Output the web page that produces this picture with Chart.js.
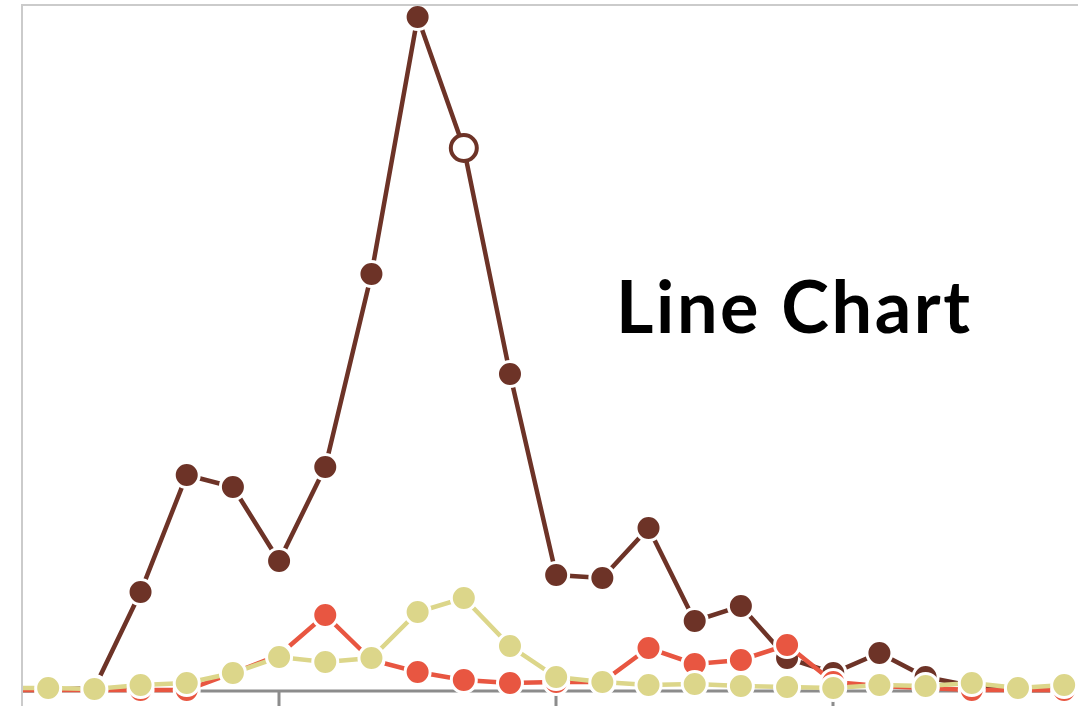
<!DOCTYPE html>
<html>
<head>
<meta charset="utf-8">
<script src="https://cdn.jsdelivr.net/npm/chart.js@4.4.1/dist/chart.umd.min.js"></script>
<style>
  html, body { margin: 0; padding: 0; background: #fff; overflow: hidden; }
  #wrap { position: absolute; left: 0; top: 0; width: 1078px; height: 706px; }
  #title { position: absolute; left: 616px; top: 269px; font-family: Lato, "Open Sans", sans-serif; font-weight: 700; font-size: 72px; line-height: 72px; letter-spacing: 2.6px; color: #000; white-space: nowrap; }
</style>
</head>
<body>
<div id="wrap"><canvas id="c" width="1078" height="706"></canvas></div>
<div id="title">Line Chart</div>
<script>
// categories (hour of day)
const hours = [0,1,2,3,4,5,6,7,8,9,10,11,12,13,14,15,16,17,18,19,20,21,22,23];
// series values
const brownValues  = [0, 0, 0.4, 19.6, 43, 40.6, 25.8, 44.6, 83.2, 134.6, 108.4, 63.2, 23, 22.4, 32.4, 13.8, 16.8, 6.4, 3.4, 7.4, 2.6, 0.8, 0, 0];
const redValues    = [0, 0, 0, 0, 0, 3.4, 7, 15, 6, 3.6, 2, 1.4, 1.6, 1.6, 8.4, 5.2, 6, 9, 1.6, 0.8, 0.4, 0, 0, 0];
const yellowValues = [0.4, 0.4, 0.2, 1, 1.4, 3.4, 6.6, 5.6, 6.4, 15.6, 18.4, 8.8, 2.6, 1.6, 1, 1.2, 0.8, 0.6, 0.4, 1, 0.8, 1.4, 0.4, 1];
// axis tick positions (every 6 hours)
const tickHours = [6, 12, 18];
const highlightIndex = 10;

const BROWN = '#6d3327', RED = '#e85641', YELLOW = '#dcd68a';

function pts(vals) { return hours.map((h, i) => ({ x: h, y: vals[i] })); }

function ds(label, vals, color, order) {
  const hl = (c) => c.dataIndex === highlightIndex && color === BROWN;
  return {
    label, data: pts(vals), order,
    borderColor: color, borderWidth: 4.5, tension: 0,
    pointRadius: (c) => hl(c) ? 13 : 12.5,
    pointBackgroundColor: (c) => hl(c) ? '#fff' : color,
    pointBorderColor: (c) => hl(c) ? BROWN : '#fff',
    pointBorderWidth: (c) => hl(c) ? 4 : 3,
    clip: { left: 0, top: false, right: false, bottom: false }
  };
}

const framePlugin = {
  id: 'frame',
  beforeDatasetsDraw(chart) {
    const ctx = chart.ctx, xs = chart.scales.x, ys = chart.scales.y, a = chart.chartArea;
    const y0 = ys.getPixelForValue(0) + 1;
    ctx.save();
    ctx.strokeStyle = '#8c8c8c';
    ctx.lineWidth = 3;
    ctx.beginPath();
    ctx.moveTo(a.left, y0); ctx.lineTo(chart.width, y0);
    tickHours.forEach(h => {
      const x = Math.round(xs.getPixelForValue(h));
      ctx.moveTo(x, y0); ctx.lineTo(x, chart.height);
    });
    ctx.stroke();
    ctx.restore();
  },
  afterDatasetsDraw(chart) {
    const ctx = chart.ctx, a = chart.chartArea;
    ctx.save();
    ctx.strokeStyle = '#cbcbcb';
    ctx.lineWidth = 2;
    ctx.beginPath();
    ctx.moveTo(a.left, chart.height); ctx.lineTo(a.left, a.top); ctx.lineTo(chart.width, a.top);
    ctx.stroke();
    ctx.restore();
  }
};

new Chart(document.getElementById('c'), {
  type: 'line',
  data: {
    datasets: [
      ds('Series A', brownValues, BROWN, 2),
      ds('Series B', redValues, RED, 1),
      ds('Series C', yellowValues, YELLOW, 0)
    ]
  },
  options: {
    responsive: false,
    animation: false,
    events: [],
    layout: { autoPadding: false, padding: { left: 22, top: 5, right: 0, bottom: 16 } },
    scales: {
      x: { type: 'linear', display: false, min: 0.433, max: 23.3 },
      y: { display: false, min: 0, max: 137 }
    },
    plugins: { legend: { display: false }, tooltip: { enabled: false } }
  },
  plugins: [framePlugin]
});
</script>
</body>
</html>
